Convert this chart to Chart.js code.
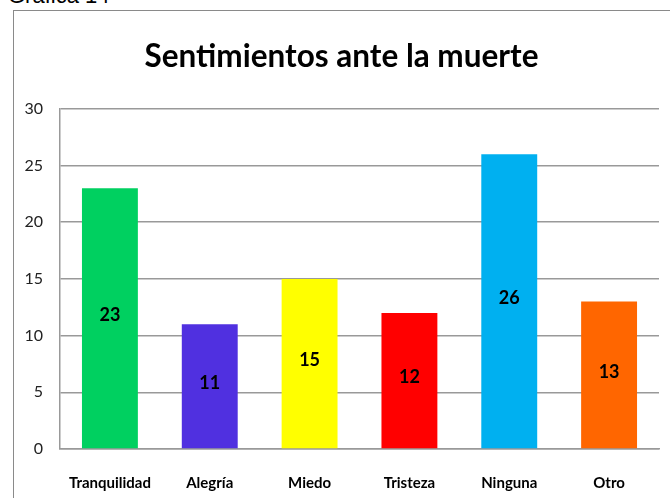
<!DOCTYPE html>
<html>
<head>
<meta charset="utf-8">
<script src="https://cdn.jsdelivr.net/npm/chart.js"></script>
<style>
  body { margin: 0; width: 670px; height: 498px; overflow: hidden; background: #fff; position: relative; }
  #caption { position: absolute; left: 8px; top: -17px; font: 22px "Liberation Sans", Arial, sans-serif; color: #000; }
  #frame { position: absolute; left: 13px; top: 10px; width: 700px; height: 520px; border: 1.5px solid #8a8a8a; }
  #myChart { position: absolute; left: 0; top: 0; }
</style>
</head>
<body>
<div id="caption">Gráfica 14</div>
<div id="frame"></div>
<canvas id="myChart" width="690" height="498"></canvas>
<script>
// Sentimientos ante la muerte - bar chart

let categories = ['Tranquilidad', 'Alegría', 'Miedo', 'Tristeza', 'Ninguna', 'Otro'];
let values = [23, 11, 15, 12, 26, 13];
let barColors = ['#00d060', '#5030e0', '#ffff00', '#ff0000', '#00b0f0', '#ff6600'];
let yTicks = [0, 5, 10, 15, 20, 25, 30];

// values written in the middle of each bar
let centerLabels = {
    id: 'centerLabels',
    afterDatasetsDraw(chart) {
        let ctx = chart.ctx;
        let meta = chart.getDatasetMeta(0);
        ctx.save();
        ctx.font = 'bold 18px Lato, sans-serif';
        ctx.fillStyle = '#000';
        ctx.textAlign = 'center';
        ctx.textBaseline = 'middle';
        meta.data.forEach((bar, i) => {
            let mid = (bar.y + bar.base) / 2;
            ctx.fillText(values[i], bar.x, mid - 3);
        });
        ctx.restore();
    }
};

let ctx = document.querySelector('#myChart').getContext('2d');

let chart = new Chart(ctx, {
    type: 'bar',
    data: {
        labels: categories,
        datasets: [{
            label: 'Sentimientos',
            data: values,
            backgroundColor: barColors,
            borderWidth: 0,
            categoryPercentage: 0.56,
            barPercentage: 1
        }]
    },
    options: {
        responsive: false,
        animation: false,
        layout: { padding: { left: 24, right: 31, top: 0, bottom: 0 } },
        plugins: {
            legend: { display: false },
            tooltip: { enabled: false },
            title: {
                display: true,
                text: 'Sentimientos ante la muerte',
                color: '#000',
                font: { family: 'Lato, sans-serif', size: 31.5, weight: 'bold' },
                padding: { top: 38, bottom: 33 }
            }
        },
        scales: {
            x: {
                grid: { display: false },
                border: { color: '#999', width: 1.5 },
                ticks: {
                    color: '#000',
                    font: { family: 'Lato, sans-serif', size: 15, weight: 'bold' },
                    padding: 17,
                    maxRotation: 0
                },
                afterFit(scale) { scale.height = 49; }
            },
            y: {
                min: 0,
                max: 30,
                afterBuildTicks(scale) { scale.ticks = yTicks.map(v => ({ value: v })); },
                grid: { color: '#999', lineWidth: 1.5, drawTicks: false },
                border: { color: '#999', width: 1.5 },
                ticks: {
                    color: '#222',
                    font: { family: 'Lato, sans-serif', size: 16 },
                    padding: 17
                },
                afterFit(scale) { scale.width = 36; }
            }
        }
    },
    plugins: [centerLabels]
});
</script>
</body>
</html>
